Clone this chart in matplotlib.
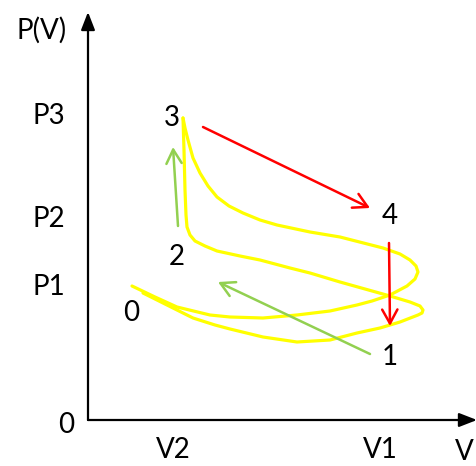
import matplotlib
matplotlib.use("Agg")
import matplotlib.pyplot as plt

# ---- data (V, P in arbitrary units) ----
# outer loop: 3 -> expansion -> right turn -> back to 0
curveA_V = [0.95, 0.97, 1.00, 1.05, 1.12, 1.20, 1.29, 1.41, 1.55, 1.72, 1.89, 2.22, 2.52, 2.95,
            3.12, 3.22, 3.28, 3.30, 3.27, 3.19, 3.02, 2.84, 2.69, 2.42, 2.09, 1.75, 1.42, 1.22,
            0.89, 0.67, 0.44]
curveA_P = [3.02, 2.92, 2.80, 2.62, 2.47, 2.34, 2.23, 2.14, 2.07, 2.00, 1.95, 1.88, 1.83, 1.72,
            1.66, 1.60, 1.54, 1.48, 1.41, 1.34, 1.25, 1.19, 1.15, 1.09, 1.05, 1.02, 1.03, 1.05,
            1.13, 1.23, 1.34]
# inner loop: 3 -> combustion drop -> compression -> right turn -> back to 0
curveB_V = [0.95, 0.96, 0.97, 0.98, 0.99, 1.02, 1.07, 1.17, 1.29, 1.52, 1.72, 2.02, 2.22, 2.52,
            2.77, 3.02, 3.22, 3.32, 3.35, 3.34, 3.30, 3.12, 2.92, 2.69, 2.42, 2.09, 1.75, 1.42,
            1.27, 1.05, 0.77, 0.55]
curveB_P = [3.02, 2.70, 2.30, 2.05, 1.93, 1.85, 1.79, 1.74, 1.69, 1.64, 1.60, 1.52, 1.47, 1.38,
            1.31, 1.24, 1.18, 1.14, 1.10, 1.07, 1.05, 0.98, 0.92, 0.87, 0.80, 0.78, 0.83, 0.91,
            0.95, 1.02, 1.16, 1.27]

# process arrows: (start V, start P, end V, end P)
red_arrows = [(1.15, 2.93, 2.82, 2.12), (3.01, 1.77, 3.02, 0.94)]
green_arrows = [(0.90, 1.94, 0.85, 2.73), (2.82, 0.66, 1.30, 1.38)]

# state-point labels
point_labels = ["3", "4", "2", "0", "1"]
point_V = [0.84, 3.02, 0.89, 0.43, 3.02]
point_P = [3.02, 2.04, 1.63, 1.07, 0.63]

p_tick_labels = ["P3", "P2", "P1"]
p_tick_values = [3.04, 2.01, 1.33]
v_tick_labels = ["V2", "V1"]
v_tick_values = [0.85, 2.92]

FONT = ["Lato", "DejaVu Sans"]
FS = 20

fig = plt.figure(figsize=(4.77, 4.66), dpi=100)
ax = fig.add_axes([0, 0, 1, 1])
ax.set_xlim(-0.88, 3.89)
ax.set_ylim(-0.46, 4.20)
ax.axis("off")

# axes with arrow heads
ax.annotate("", xy=(0.0, 4.08), xytext=(0.0, 0.0), annotation_clip=False,
            arrowprops=dict(arrowstyle="-|>,head_length=0.9,head_width=0.35", color="black",
                            lw=1.6, shrinkA=0, shrinkB=0, mutation_scale=12))
ax.annotate("", xy=(3.89, 0.0), xytext=(0.0, 0.0), annotation_clip=False,
            arrowprops=dict(arrowstyle="-|>,head_length=0.9,head_width=0.35", color="black",
                            lw=1.6, shrinkA=0, shrinkB=0, mutation_scale=12))

# cycle curves
ax.plot(curveA_V, curveA_P, color="#FFFF00", lw=2.3, solid_capstyle="round", solid_joinstyle="round")
ax.plot(curveB_V, curveB_P, color="#FFFF00", lw=2.3, solid_capstyle="round", solid_joinstyle="round")

for (v0, p0, v1, p1) in red_arrows:
    ax.annotate("", xy=(v1, p1), xytext=(v0, p0),
                arrowprops=dict(arrowstyle="->,head_length=1.0,head_width=0.55", color="#FF0000",
                                lw=1.8, shrinkA=0, shrinkB=0, mutation_scale=10))
for (v0, p0, v1, p1) in green_arrows:
    ax.annotate("", xy=(v1, p1), xytext=(v0, p0),
                arrowprops=dict(arrowstyle="->,head_length=1.0,head_width=0.55", color="#92D050",
                                lw=1.8, shrinkA=0, shrinkB=0, mutation_scale=10))

for lab, v, p in zip(point_labels, point_V, point_P):
    ax.text(v, p, lab, ha="center", va="center", fontsize=FS, family=FONT)

for lab, p in zip(p_tick_labels, p_tick_values):
    ax.text(-0.39, p, lab, ha="center", va="center", fontsize=FS, family=FONT)
for lab, v in zip(v_tick_labels, v_tick_values):
    ax.text(v, -0.30, lab, ha="center", va="center", fontsize=FS, family=FONT)

ax.text(-0.22, -0.05, "0", ha="center", va="center", fontsize=FS, family=FONT)
ax.text(-0.46, 3.90, "P(V)", ha="center", va="center", fontsize=FS, family=FONT)
ax.text(3.76, -0.455, "V", ha="center", va="bottom", fontsize=FS, family=FONT)

fig.savefig("out.png", dpi=100)
